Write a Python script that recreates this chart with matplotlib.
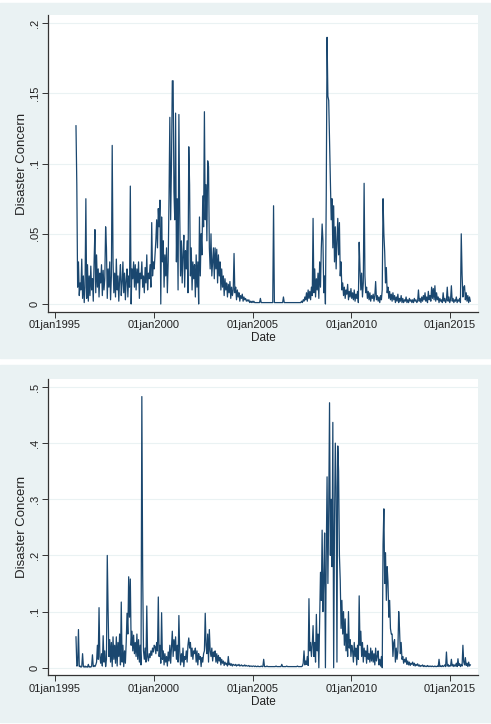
# Disaster concern index, two Stata-style panels

import matplotlib.pyplot as plt
import numpy as np
from matplotlib.patches import Rectangle

# half-monthly readings, first point at 1996.0625
start_year = 1996.0625
step = 1 / 24

concern_top = [
    # 1996
    0.127, 0.085, 0.012, 0.030, 0.006, 0.015, 0.010, 0.032, 0.004, 0.020, 0.001, 0.012,
    0.075, 0.004, 0.028, 0.002, 0.020, 0.006, 0.027, 0.010, 0.018, 0.002, 0.030, 0.053,
    # 1997
    0.008, 0.035, 0.012, 0.025, 0.005, 0.022, 0.015, 0.028, 0.006, 0.024, 0.010, 0.018,
    0.055, 0.040, 0.004, 0.025, 0.012, 0.030, 0.003, 0.020, 0.113, 0.030, 0.008, 0.022,
    # 1998
    0.005, 0.032, 0.010, 0.020, 0.002, 0.018, 0.028, 0.006, 0.015, 0.030, 0.008, 0.022,
    0.003, 0.017, 0.025, 0.005, 0.020, 0.012, 0.084, 0.000, 0.025, 0.018, 0.030, 0.012,
    # 1999
    0.028, 0.010, 0.025, 0.015, 0.030, 0.004, 0.022, 0.018, 0.030, 0.012, 0.020, 0.008,
    0.026, 0.015, 0.035, 0.010, 0.022, 0.018, 0.028, 0.012, 0.058, 0.020, 0.030, 0.025,
    # 2000
    0.035, 0.045, 0.060, 0.040, 0.068, 0.055, 0.074, 0.000, 0.062, 0.030, 0.045, 0.012,
    0.035, 0.020, 0.040, 0.008, 0.030, 0.075, 0.133, 0.060, 0.100, 0.159, 0.159, 0.080,
    # 2001
    0.060, 0.136, 0.030, 0.075, 0.010, 0.135, 0.065, 0.020, 0.045, 0.015, 0.035, 0.049,
    0.012, 0.038, 0.025, 0.045, 0.008, 0.112, 0.085, 0.020, 0.040, 0.010, 0.030, 0.018,
    # 2002
    0.028, 0.005, 0.035, 0.012, 0.030, 0.000, 0.062, 0.020, 0.050, 0.035, 0.077, 0.055,
    0.137, 0.060, 0.085, 0.045, 0.102, 0.098, 0.040, 0.025, 0.050, 0.020, 0.030, 0.040,
    # 2003
    0.018, 0.040, 0.025, 0.039, 0.015, 0.035, 0.020, 0.030, 0.010, 0.025, 0.012, 0.020,
    0.006, 0.018, 0.010, 0.015, 0.005, 0.014, 0.008, 0.016, 0.004, 0.012, 0.006, 0.010,
    # 2004
    0.036, 0.008, 0.012, 0.003, 0.010, 0.005, 0.008, 0.002, 0.006, 0.004, 0.007, 0.002,
    0.005, 0.003, 0.004, 0.002, 0.003, 0.002, 0.003, 0.001, 0.002, 0.001, 0.002, 0.001,
    # 2005
    0.002, 0.001, 0.001, 0.001, 0.001, 0.001, 0.001, 0.001, 0.004, 0.001, 0.001, 0.001,
    0.001, 0.001, 0.001, 0.001, 0.001, 0.001, 0.001, 0.001, 0.001, 0.001, 0.001, 0.001,
    # 2006
    0.070, 0.001, 0.001, 0.001, 0.001, 0.001, 0.001, 0.001, 0.001, 0.001, 0.001, 0.001,
    0.005, 0.001, 0.001, 0.001, 0.001, 0.001, 0.001, 0.001, 0.001, 0.001, 0.001, 0.001,
    # 2007
    0.001, 0.001, 0.001, 0.001, 0.001, 0.001, 0.001, 0.001, 0.001, 0.001, 0.002, 0.001,
    0.003, 0.002, 0.005, 0.003, 0.008, 0.002, 0.010, 0.004, 0.009, 0.003, 0.012, 0.006,
    # 2008
    0.061, 0.008, 0.025, 0.005, 0.018, 0.010, 0.022, 0.004, 0.030, 0.012, 0.040, 0.057,
    0.045, 0.008, 0.020, 0.000, 0.077, 0.190, 0.148, 0.145, 0.117, 0.090, 0.060, 0.075,
    # 2009
    0.040, 0.070, 0.030, 0.055, 0.025, 0.045, 0.061, 0.035, 0.058, 0.020, 0.030, 0.010,
    0.015, 0.006, 0.012, 0.004, 0.010, 0.007, 0.014, 0.003, 0.009, 0.005, 0.011, 0.004,
    # 2010
    0.008, 0.003, 0.010, 0.002, 0.007, 0.004, 0.009, 0.001, 0.044, 0.025, 0.010, 0.022,
    0.005, 0.015, 0.086, 0.020, 0.008, 0.012, 0.004, 0.009, 0.003, 0.008, 0.002, 0.006,
    # 2011
    0.004, 0.007, 0.002, 0.006, 0.016, 0.003, 0.006, 0.002, 0.005, 0.001, 0.006, 0.003,
    0.010, 0.075, 0.050, 0.037, 0.015, 0.026, 0.008, 0.012, 0.004, 0.009, 0.003, 0.007,
    # 2012
    0.002, 0.008, 0.003, 0.006, 0.001, 0.005, 0.002, 0.007, 0.001, 0.004, 0.002, 0.006,
    0.001, 0.004, 0.001, 0.003, 0.002, 0.005, 0.001, 0.003, 0.001, 0.004, 0.002, 0.003,
    # 2013
    0.001, 0.003, 0.001, 0.004, 0.002, 0.003, 0.001, 0.002, 0.010, 0.002, 0.004, 0.001,
    0.005, 0.002, 0.006, 0.003, 0.008, 0.002, 0.005, 0.001, 0.009, 0.003, 0.006, 0.002,
    # 2014
    0.012, 0.004, 0.011, 0.003, 0.013, 0.002, 0.008, 0.003, 0.005, 0.001, 0.004, 0.002,
    0.003, 0.001, 0.008, 0.002, 0.004, 0.001, 0.003, 0.012, 0.002, 0.005, 0.001, 0.003,
    # 2015
    0.013, 0.002, 0.004, 0.001, 0.003, 0.002, 0.005, 0.001, 0.003, 0.002, 0.004, 0.001,
    0.050, 0.021, 0.005, 0.012, 0.013, 0.003, 0.008, 0.002, 0.006, 0.001, 0.005, 0.002,
]

concern_bottom = [
    # 1996
    0.055, 0.003, 0.004, 0.068, 0.002, 0.003, 0.001, 0.002, 0.025, 0.002, 0.001, 0.003,
    0.001, 0.002, 0.001, 0.006, 0.001, 0.002, 0.001, 0.003, 0.023, 0.002, 0.004, 0.002,
    # 1997
    0.005, 0.010, 0.040, 0.015, 0.107, 0.020, 0.008, 0.025, 0.003, 0.057, 0.010, 0.030,
    0.002, 0.015, 0.200, 0.103, 0.020, 0.050, 0.010, 0.045, 0.002, 0.055, 0.015, 0.040,
    # 1998
    0.008, 0.055, 0.003, 0.045, 0.020, 0.060, 0.005, 0.117, 0.010, 0.040, 0.002, 0.030,
    0.008, 0.045, 0.097, 0.060, 0.162, 0.090, 0.158, 0.040, 0.065, 0.030, 0.058, 0.025,
    # 1999
    0.045, 0.020, 0.060, 0.015, 0.050, 0.010, 0.040, 0.005, 0.483, 0.167, 0.030, 0.015,
    0.035, 0.010, 0.110, 0.020, 0.012, 0.025, 0.018, 0.030, 0.022, 0.035, 0.028, 0.040,
    # 2000
    0.038, 0.025, 0.045, 0.030, 0.126, 0.020, 0.040, 0.008, 0.098, 0.015, 0.030, 0.005,
    0.025, 0.010, 0.020, 0.003, 0.028, 0.012, 0.040, 0.008, 0.035, 0.065, 0.020, 0.050,
    # 2001
    0.030, 0.055, 0.015, 0.040, 0.010, 0.093, 0.030, 0.005, 0.025, 0.010, 0.035, 0.002,
    0.020, 0.015, 0.030, 0.010, 0.040, 0.053, 0.035, 0.045, 0.020, 0.035, 0.015, 0.030,
    # 2002
    0.025, 0.035, 0.010, 0.030, 0.005, 0.025, 0.015, 0.020, 0.002, 0.018, 0.010, 0.025,
    0.030, 0.097, 0.040, 0.025, 0.060, 0.010, 0.068, 0.030, 0.020, 0.035, 0.012, 0.028,
    # 2003
    0.020, 0.030, 0.010, 0.025, 0.008, 0.022, 0.012, 0.018, 0.005, 0.015, 0.008, 0.012,
    0.004, 0.010, 0.006, 0.008, 0.003, 0.020, 0.005, 0.008, 0.004, 0.007, 0.003, 0.006,
    # 2004
    0.005, 0.004, 0.006, 0.003, 0.005, 0.004, 0.006, 0.003, 0.004, 0.005, 0.003, 0.004,
    0.003, 0.005, 0.003, 0.004, 0.003, 0.003, 0.004, 0.002, 0.003, 0.003, 0.002, 0.003,
    # 2005
    0.003, 0.002, 0.003, 0.002, 0.002, 0.003, 0.002, 0.002, 0.002, 0.003, 0.002, 0.002,
    0.015, 0.002, 0.002, 0.002, 0.003, 0.002, 0.002, 0.002, 0.002, 0.002, 0.002, 0.002,
    # 2006
    0.002, 0.002, 0.002, 0.003, 0.002, 0.002, 0.002, 0.002, 0.002, 0.002, 0.006, 0.002,
    0.002, 0.002, 0.002, 0.002, 0.003, 0.002, 0.002, 0.002, 0.002, 0.002, 0.002, 0.002,
    # 2007
    0.002, 0.002, 0.002, 0.002, 0.002, 0.003, 0.002, 0.002, 0.002, 0.002, 0.002, 0.003,
    0.008, 0.030, 0.005, 0.012, 0.006, 0.020, 0.004, 0.123, 0.030, 0.045, 0.020, 0.040,
    # 2008
    0.075, 0.020, 0.045, 0.010, 0.095, 0.030, 0.060, 0.000, 0.080, 0.170, 0.120, 0.245,
    0.100, 0.160, 0.240, 0.000, 0.200, 0.340, 0.150, 0.280, 0.472, 0.200, 0.300, 0.180,
    # 2009
    0.437, 0.000, 0.250, 0.400, 0.320, 0.010, 0.395, 0.350, 0.200, 0.155, 0.070, 0.120,
    0.060, 0.100, 0.040, 0.087, 0.030, 0.060, 0.020, 0.100, 0.035, 0.050, 0.020, 0.040,
    # 2010
    0.030, 0.010, 0.045, 0.020, 0.035, 0.005, 0.040, 0.015, 0.128, 0.040, 0.065, 0.020,
    0.045, 0.010, 0.035, 0.020, 0.030, 0.008, 0.040, 0.015, 0.025, 0.010, 0.035, 0.012,
    # 2011
    0.030, 0.010, 0.025, 0.005, 0.035, 0.012, 0.020, 0.030, 0.005, 0.015, 0.003, 0.020,
    0.000, 0.220, 0.283, 0.150, 0.205, 0.120, 0.180, 0.153, 0.090, 0.120, 0.070, 0.060,
    # 2012
    0.060, 0.020, 0.045, 0.050, 0.010, 0.035, 0.015, 0.030, 0.100, 0.070, 0.025, 0.045,
    0.015, 0.020, 0.008, 0.015, 0.010, 0.018, 0.006, 0.012, 0.005, 0.010, 0.004, 0.008,
    # 2013
    0.006, 0.010, 0.004, 0.008, 0.003, 0.006, 0.004, 0.007, 0.003, 0.005, 0.002, 0.004,
    0.003, 0.005, 0.002, 0.004, 0.002, 0.003, 0.002, 0.004, 0.002, 0.003, 0.002, 0.003,
    # 2014
    0.002, 0.003, 0.002, 0.002, 0.003, 0.002, 0.002, 0.003, 0.002, 0.015, 0.002, 0.003,
    0.002, 0.004, 0.002, 0.003, 0.005, 0.002, 0.028, 0.003, 0.006, 0.002, 0.004, 0.003,
    # 2015
    0.015, 0.003, 0.006, 0.002, 0.005, 0.003, 0.008, 0.002, 0.016, 0.004, 0.007, 0.002,
    0.006, 0.003, 0.040, 0.010, 0.005, 0.018, 0.004, 0.008, 0.002, 0.010, 0.003, 0.005,
]

xtick_years = [1995, 2000, 2005, 2010, 2015]
xtick_labels = ['01jan1995', '01jan2000', '01jan2005', '01jan2010', '01jan2015']
yticks_top = [0, 0.05, 0.1, 0.15, 0.2]
ylabels_top = ['0', '.05', '.1', '.15', '.2']
yticks_bottom = [0, 0.1, 0.2, 0.3, 0.4, 0.5]
ylabels_bottom = ['0', '.1', '.2', '.3', '.4', '.5']

plt.rcParams['font.family'] = ['Liberation Sans Narrow', 'Liberation Sans', 'DejaVu Sans']

W, H = 491, 724
fig = plt.figure(figsize=(W / 100, H / 100), dpi=100)
fig.patch.set_facecolor('white')

bg = '#eaf2f3'
navy = '#1a476f'

# panel backgrounds (pixel rows from the top), kept behind the axes
for y0, y1 in [(3, 358), (365, 722)]:
    fig.patches.append(Rectangle((0, 1 - y1 / H), 1, (y1 - y0) / H,
                                 transform=fig.transFigure, color=bg, zorder=-10))


def panel(rect, values, yticks, ylabels, ylim):
    ax = fig.add_axes(rect, zorder=1)
    ax.set_facecolor('white')
    t = start_year + step * np.arange(len(values))
    ax.plot(t, values, color=navy, lw=0.9)
    ax.set_xlim(1994.646, 2016.41)
    ax.set_ylim(*ylim)
    ax.set_xticks(xtick_years)
    ax.set_xticklabels(xtick_labels, fontsize=8)
    ax.set_yticks(yticks)
    ax.set_yticklabels(ylabels, fontsize=8, rotation=90, va='center')
    ax.yaxis.grid(True, color='#eaf2f3', lw=0.8)
    ax.set_axisbelow(True)
    for s in ['top', 'right']:
        ax.spines[s].set_visible(False)
    for s in ['left', 'bottom']:
        ax.spines[s].set_color('#333333')
        ax.spines[s].set_linewidth(0.9)
    ax.tick_params(length=4, width=0.7, color='#333333', labelcolor='#222222', pad=2)
    ax.set_xlabel('Date', fontsize=8.5, labelpad=1.5, color='#222222')
    ax.set_ylabel('Disaster Concern', fontsize=9.5, labelpad=1, color='#222222')
    return ax


panel([48 / W, 1 - 312 / H, 430 / W, 297 / H], concern_top,
      yticks_top, ylabels_top, (-0.0057, 0.2059))
panel([48 / W, 1 - 675.3 / H, 430 / W, 296.6 / H], concern_bottom,
      yticks_bottom, ylabels_bottom, (-0.0135, 0.5148))

fig.savefig('out.png', dpi=100)
